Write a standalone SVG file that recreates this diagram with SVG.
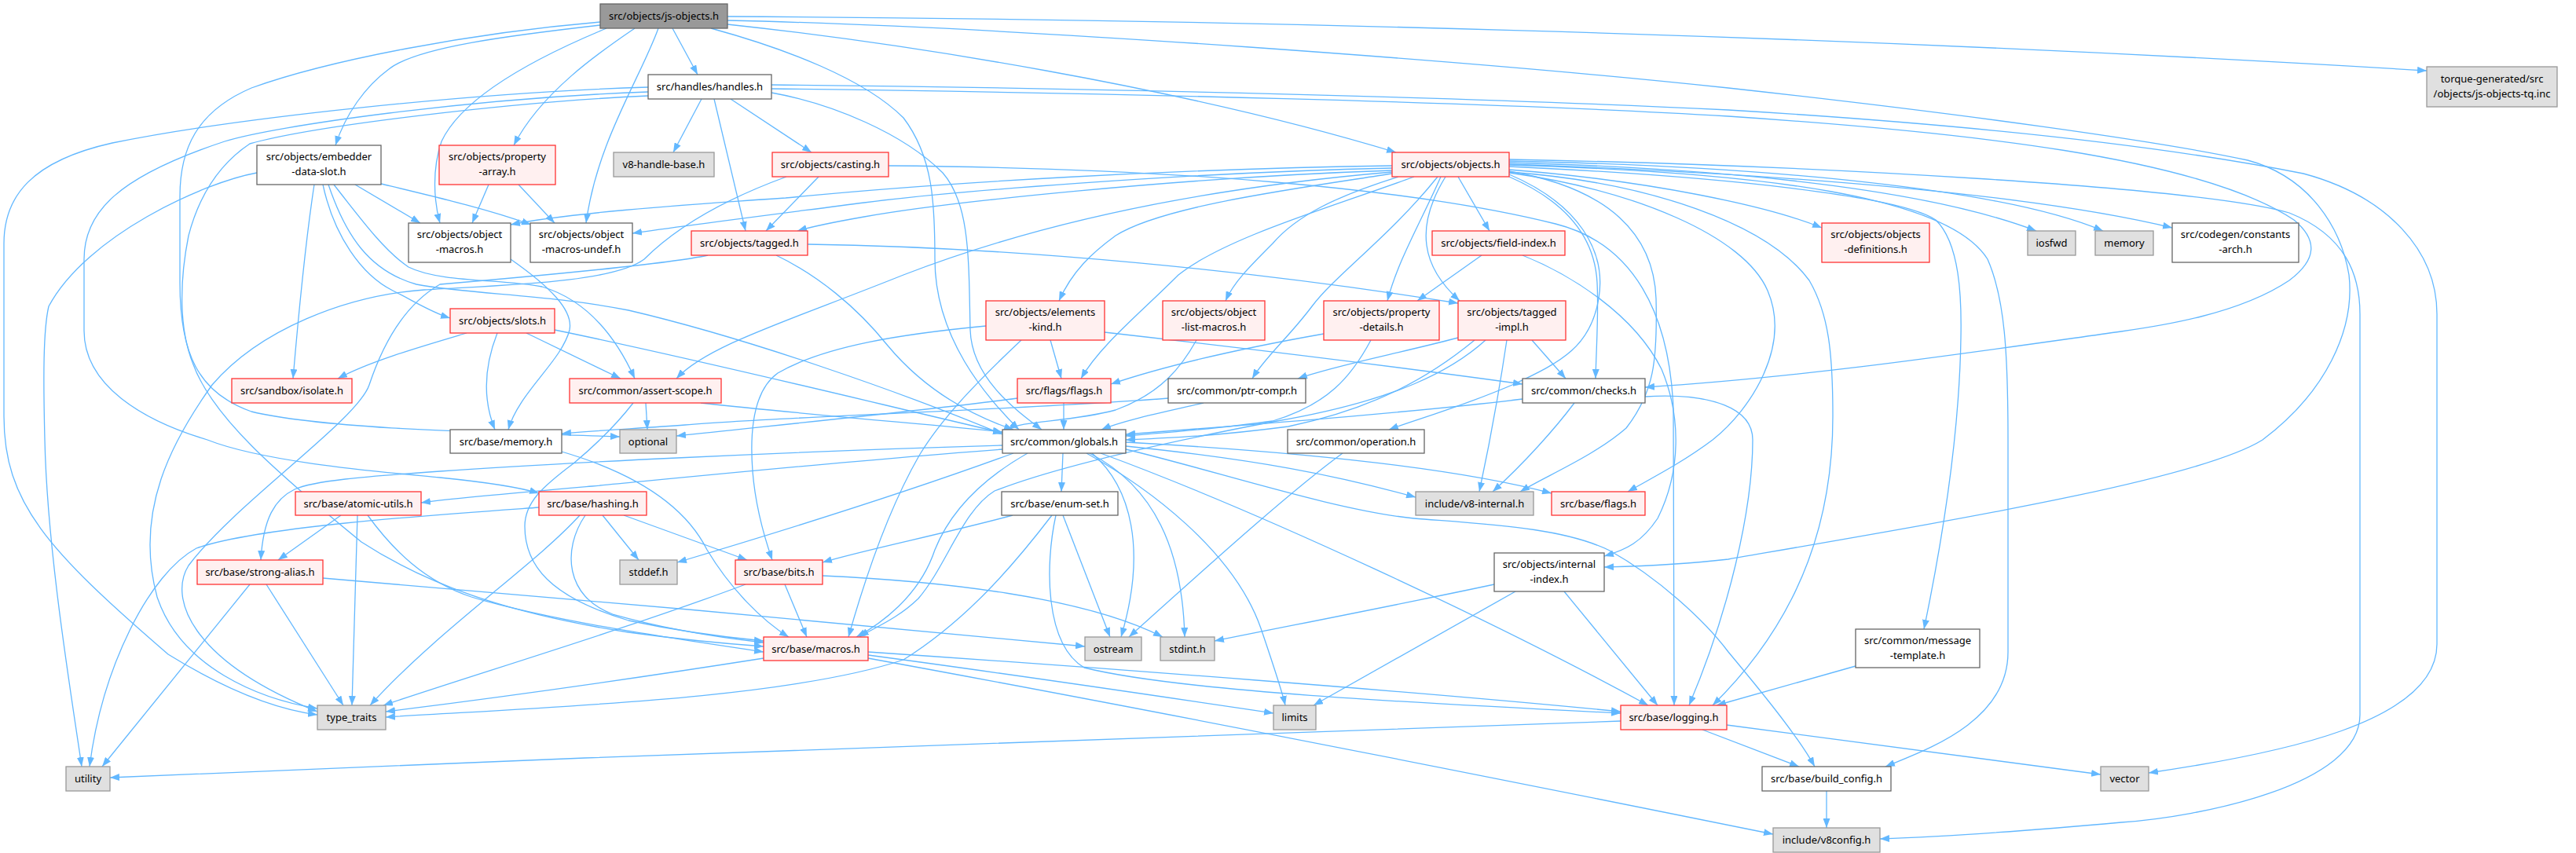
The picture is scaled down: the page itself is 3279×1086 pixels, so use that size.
<svg xmlns="http://www.w3.org/2000/svg" width="3279" height="1086" viewBox="0 0 3279 1086">
<defs>
<marker id="a" viewBox="0 0 12 9" refX="12" refY="4.5" markerWidth="12" markerHeight="9" markerUnits="userSpaceOnUse" orient="auto"><path d="M0,0L12,4.5L0,9z" fill="#63B8FF"/></marker>
<style>
.e path{fill:none;stroke:#63B8FF;stroke-width:1.3;marker-end:url(#a)}
rect{stroke-width:1.3}
.w rect{fill:#fff;stroke:#666}
.r rect{fill:#FFF0F0;stroke:#F33}
.g rect{fill:#E0E0E0;stroke:#999}
.d rect{fill:#999;stroke:#666}
text{font-family:"Noto Sans","DejaVu Sans",sans-serif;font-size:13px;fill:#000;text-anchor:middle}
</style>
</defs>
<rect width="3279" height="1086" fill="#fff"/>
<g id="edges" class="e">
<path d="M856,36 L888,95"/>
<path d="M926,21 C1500,24 2300,42 3089,90"/>
<path d="M764,32 C650,45 530,60 495,88 C465,110 440,145 427,185"/>
<path d="M772,36 C690,70 590,120 562,180 C550,215 552,255 560,284"/>
<path d="M808,36 C770,62 690,115 654,185"/>
<path d="M838,36 C815,100 760,180 746,284"/>
<path d="M926,31 C1150,55 1500,110 1777,194"/>
<path d="M905,36 C1000,62 1100,100 1150,150 C1188,200 1190,260 1190,330 C1190,430 1255,505 1297,547"/>
<path d="M764,28 C600,42 420,76 320,112 C250,142 229,190 229,250 L229,360 C229,450 252,500 320,524 C420,548 650,551 789,556"/>
<path d="M926,26 C1300,34 1900,80 2200,112 C2500,145 2750,180 2861,204 C2940,225 2980,290 2990,350 C2998,420 2960,500 2880,560 C2800,610 2500,660 2200,712 C2130,720 2080,721 2042,722"/>
<path d="M893,126 L857,194"/>
<path d="M930,126 L1033,194"/>
<path d="M909,126 L949,294"/>
<path d="M825,111 C600,118 300,150 143,182 C40,205 5,250 5,310 L5,530 C5,640 60,700 214,833 C290,880 350,903 404,910"/>
<path d="M825,117 C600,125 350,160 286,180 C150,225 107,270 107,330 L107,421 C107,490 180,535 264,560 C340,590 500,602 560,608 C620,614 660,620 686,628"/>
<path d="M825,122 C650,130 400,160 318,183 C270,215 250,262 240,300 C228,360 228,420 246,464 C270,530 350,600 460,690 C540,742 640,780 800,805 C880,816 930,820 972,823"/>
<path d="M982,118 C1060,132 1150,170 1200,220 C1235,260 1233,330 1235,420 C1237,480 1290,520 1326,547"/>
<path d="M982,113 C1400,118 1900,130 2200,148 C2500,168 2800,200 2920,280 C2950,305 2950,330 2914,357 C2850,400 2750,415 2700,422 C2500,450 2300,480 2094,493"/>
<path d="M982,108 C1400,112 1900,125 2200,140 C2500,158 2750,185 2932,221 C3040,250 3102,320 3102,400 L3102,820 C3102,920 2900,960 2735,984"/>
<path d="M452,235 L535,284"/>
<path d="M485,234 C560,252 620,266 676,286"/>
<path d="M411,235 C425,300 460,350 500,370 C530,385 550,398 573,405"/>
<path d="M400,235 C390,300 380,400 373,482"/>
<path d="M425,235 C460,280 490,320 520,340 C560,360 640,355 690,365 C740,380 780,420 808,482"/>
<path d="M418,235 C440,300 470,345 530,362 C600,375 700,375 800,395 C950,430 1150,500 1276,553"/>
<path d="M327,220 C260,232 110,300 62,390 C55,420 55,480 57,560 C60,700 90,880 104,976"/>
<path d="M622,235 L601,284"/>
<path d="M660,235 L706,284"/>
<path d="M1042,225 L975,294"/>
<path d="M1001,225 C900,262 850,300 820,330 C780,360 640,363 540,369 C440,376 330,420 270,490 C220,560 170,650 200,760 C230,850 330,890 404,902"/>
<path d="M1131,211 C1500,214 1800,240 1980,285 C2080,310 2125,400 2130,520 L2131,898"/>
<path d="M1028,311 C1300,315 1600,345 1856,386"/>
<path d="M988,325 C1040,350 1090,390 1130,440 C1180,500 1240,530 1290,547"/>
<path d="M901,325 C850,336 700,350 560,362 C520,385 490,430 470,490 C455,535 300,640 240,720 C215,760 240,840 404,906"/>
<path d="M594,424 C540,440 470,460 430,482"/>
<path d="M633,424 C615,470 615,510 630,547"/>
<path d="M670,424 L790,482"/>
<path d="M706,420 C900,460 1100,510 1276,551"/>
<path d="M650,330 C700,365 730,395 725,420 C715,460 660,500 647,547"/>
<path d="M1772,211 C1500,215 1200,232 1000,252 C850,262 720,272 650,286"/>
<path d="M1772,214 C1500,220 1200,245 1100,258 C1000,271 880,286 805,297"/>
<path d="M1772,217 C1500,226 1200,258 1100,276 C1060,283 1035,288 1015,294"/>
<path d="M1921,216 C2100,230 2250,262 2319,290"/>
<path d="M1921,207 C2200,215 2450,240 2592,294"/>
<path d="M1921,205 C2250,212 2550,240 2677,294"/>
<path d="M1921,209 C2300,222 2600,250 2765,290"/>
<path d="M1921,203 C2300,210 2800,238 2914,271 C2986,300 3004,350 3004,400 L3004,910 C3004,1000 2800,1040 2700,1047 C2600,1056 2480,1065 2393,1068"/>
<path d="M1856,225 L1896,294"/>
<path d="M1834,225 C1810,280 1780,330 1766,383"/>
<path d="M1840,225 C1800,290 1810,340 1858,383"/>
<path d="M1772,221 C1650,240 1480,262 1420,300 C1390,322 1365,345 1348,383"/>
<path d="M1780,225 C1700,250 1650,275 1620,310 C1590,340 1570,360 1560,383"/>
<path d="M1800,225 C1700,262 1560,302 1500,350 C1450,400 1400,440 1376,482"/>
<path d="M1830,225 C1770,300 1700,350 1670,390 C1640,430 1610,455 1594,482"/>
<path d="M1772,219 C1500,242 1300,292 1150,350 C1000,410 900,440 861,482"/>
<path d="M1921,225 C1990,255 2030,300 2033,360 C2035,400 2032,440 2031,482"/>
<path d="M1921,222 C2010,260 2045,320 2035,380 C2025,440 1990,460 1925,490 C1860,518 1800,535 1768,547"/>
<path d="M1921,218 C2050,240 2105,300 2108,380 C2110,460 2105,500 2070,545 C2030,580 1970,605 1935,626"/>
<path d="M1921,212 C2200,225 2420,250 2464,280 C2495,310 2497,380 2496,430 C2494,560 2470,700 2449,801"/>
<path d="M1921,219 C2100,232 2250,285 2303,357 C2328,400 2333,450 2333,530 C2333,650 2300,780 2180,898"/>
<path d="M1921,220 C2080,242 2220,300 2250,370 C2280,440 2230,520 2180,560 C2140,590 2100,610 2072,626"/>
<path d="M1921,210 C2250,220 2480,250 2530,330 C2552,380 2556,450 2556,560 L2556,830 C2556,920 2450,955 2400,976"/>
<path d="M1886,325 L1804,383"/>
<path d="M1938,325 C2000,350 2080,400 2115,470 C2140,530 2140,600 2110,660 C2090,690 2070,700 2042,708"/>
<path d="M1337,433 L1351,482"/>
<path d="M1406,423 C1600,445 1800,470 1938,489"/>
<path d="M1300,433 C1250,480 1200,530 1170,580 C1130,650 1100,740 1080,811"/>
<path d="M1255,415 C1150,425 1050,440 990,475 C955,500 955,560 958,600 C962,650 975,690 983,713"/>
<path d="M1523,433 C1505,465 1480,500 1420,522 C1360,538 1300,535 1283,547"/>
<path d="M1354,513 L1354,547"/>
<path d="M1295,507 C1200,520 1050,535 861,555"/>
<path d="M1532,513 C1480,525 1430,535 1402,547"/>
<path d="M1487,507 C1300,522 1000,530 872,541 C820,545 760,548 715,552"/>
<path d="M1938,508 C1800,525 1600,540 1433,553"/>
<path d="M2004,513 C1980,545 1940,590 1900,626"/>
<path d="M2094,505 C2180,500 2231,520 2231,560 C2231,650 2200,780 2150,898"/>
<path d="M1877,433 C1820,480 1750,520 1640,543 C1540,556 1480,558 1433,560"/>
<path d="M1918,433 C1908,500 1895,570 1883,626"/>
<path d="M1950,433 L1993,482"/>
<path d="M1856,430 C1780,450 1700,465 1652,482"/>
<path d="M1891,433 C1850,470 1780,510 1620,537 C1500,560 1350,592 1266,625 C1225,650 1205,720 1169,762 C1140,790 1110,800 1094,811"/>
<path d="M1685,425 C1600,440 1500,460 1414,489"/>
<path d="M1745,433 C1720,480 1690,515 1620,536 C1550,546 1490,550 1433,555"/>
<path d="M1353,577 L1351,626"/>
<path d="M1276,572 C1100,585 900,605 754,619 C650,628 580,634 536,640"/>
<path d="M1276,567 C1000,575 700,590 560,600 C460,607 400,612 375,623 C350,635 335,660 332,713"/>
<path d="M1308,577 C1250,610 1210,650 1190,700 C1170,760 1120,795 1090,811"/>
<path d="M1390,577 C1440,620 1460,700 1427,811"/>
<path d="M1387,577 C1470,620 1505,700 1508,811"/>
<path d="M1383,577 C1460,620 1570,700 1605,800 C1622,850 1632,880 1636,898"/>
<path d="M1433,568 C1600,585 1700,605 1802,633"/>
<path d="M1433,563 C1650,575 1850,595 1975,628"/>
<path d="M1401,577 C1600,650 1900,790 2098,898"/>
<path d="M1433,572 C1550,600 1700,650 1800,660 C1900,668 1990,672 2049,701 C2110,735 2170,790 2200,830 C2250,890 2290,940 2310,976"/>
<path d="M1290,577 C1200,610 1050,660 862,716"/>
<path d="M1289,656 C1200,680 1100,700 1047,716"/>
<path d="M1339,656 C1290,720 1230,790 1150,840 C1000,890 700,900 491,913"/>
<path d="M1353,656 L1413,811"/>
<path d="M1344,656 C1330,720 1330,820 1380,850 C1500,880 1800,895 2063,908"/>
<path d="M686,646 C560,655 330,670 250,698 C190,730 130,850 114,976"/>
<path d="M738,656 C680,720 560,800 471,898"/>
<path d="M745,656 C715,700 720,760 780,782 C850,802 920,812 972,818"/>
<path d="M767,656 L813,713"/>
<path d="M794,656 L951,713"/>
<path d="M434,656 L354,713"/>
<path d="M455,656 L448,898"/>
<path d="M468,656 C500,700 540,740 600,760 C700,790 850,812 972,830"/>
<path d="M318,744 L130,976"/>
<path d="M339,744 L437,898"/>
<path d="M411,736 C700,760 1100,795 1381,823"/>
<path d="M715,575 C800,600 870,640 900,700 C930,750 970,790 1004,811"/>
<path d="M999,744 L1027,811"/>
<path d="M949,744 C800,800 600,860 488,898"/>
<path d="M1047,733 C1200,740 1380,760 1480,811"/>
<path d="M972,838 C800,865 620,890 491,906"/>
<path d="M1105,834 C1300,860 1500,890 1621,908"/>
<path d="M1105,830 C1400,850 1800,880 2063,906"/>
<path d="M1105,838 C1500,910 2000,1010 2257,1062"/>
<path d="M2063,918 C1600,935 800,960 140,990"/>
<path d="M2167,929 L2290,976"/>
<path d="M2198,923 L2674,986"/>
<path d="M2325,1007 L2325,1054"/>
<path d="M2362,848 L2185,898"/>
<path d="M1929,753 L1672,898"/>
<path d="M1991,753 L2110,898"/>
<path d="M1902,744 C1780,770 1650,795 1546,816"/>
<path d="M822,513 L824,547"/>
<path d="M892,513 C1050,530 1180,540 1276,550"/>
<path d="M806,513 C785,540 760,565 730,590 C690,620 668,640 668,670 C668,720 700,760 800,790 C870,805 930,812 972,816"/>
<path d="M1709,577 C1650,620 1560,700 1437,811"/>
</g>
<g id="n-js-objects" class="d"><rect x="764" y="5" width="162" height="31"/><text x="845" y="25">src/objects/js-objects.h</text></g>
<g id="n-handles" class="w"><rect x="825" y="95" width="157" height="31"/><text x="903.5" y="115">src/handles/handles.h</text></g>
<g id="n-torque" class="g"><rect x="3089" y="85" width="166" height="51"/><text x="3172" y="105">torque-generated/src</text><text x="3172" y="124">/objects/js-objects-tq.inc</text></g>
<g id="n-embedder" class="w"><rect x="327" y="185" width="158" height="50"/><text x="406" y="204">src/objects/embedder</text><text x="406" y="223">-data-slot.h</text></g>
<g id="n-property-array" class="r"><rect x="559" y="185" width="148" height="50"/><text x="633" y="204">src/objects/property</text><text x="633" y="223">-array.h</text></g>
<g id="n-v8-handle-base" class="g"><rect x="781" y="194" width="128" height="31"/><text x="845" y="214">v8-handle-base.h</text></g>
<g id="n-casting" class="r"><rect x="983" y="194" width="148" height="31"/><text x="1057" y="214">src/objects/casting.h</text></g>
<g id="n-objects" class="r"><rect x="1772" y="194" width="149" height="31"/><text x="1846.5" y="214">src/objects/objects.h</text></g>
<g id="n-object-macros" class="w"><rect x="520" y="284" width="130" height="50"/><text x="585" y="303">src/objects/object</text><text x="585" y="322">-macros.h</text></g>
<g id="n-object-macros-undef" class="w"><rect x="675" y="284" width="130" height="50"/><text x="740" y="303">src/objects/object</text><text x="740" y="322">-macros-undef.h</text></g>
<g id="n-tagged" class="r"><rect x="880" y="294" width="148" height="31"/><text x="954" y="314">src/objects/tagged.h</text></g>
<g id="n-objects-definitions" class="r"><rect x="2319" y="284" width="137" height="50"/><text x="2387.5" y="303">src/objects/objects</text><text x="2387.5" y="322">-definitions.h</text></g>
<g id="n-iosfwd" class="g"><rect x="2581" y="294" width="61" height="31"/><text x="2611.5" y="314">iosfwd</text></g>
<g id="n-memory" class="g"><rect x="2667" y="294" width="74" height="31"/><text x="2704" y="314">memory</text></g>
<g id="n-constants-arch" class="w"><rect x="2765" y="284" width="161" height="50"/><text x="2845.5" y="303">src/codegen/constants</text><text x="2845.5" y="322">-arch.h</text></g>
<g id="n-field-index" class="r"><rect x="1823" y="294" width="169" height="31"/><text x="1907.5" y="314">src/objects/field-index.h</text></g>
<g id="n-slots" class="r"><rect x="573" y="393" width="133" height="31"/><text x="639.5" y="413">src/objects/slots.h</text></g>
<g id="n-elements-kind" class="r"><rect x="1255" y="383" width="151" height="50"/><text x="1330.5" y="402">src/objects/elements</text><text x="1330.5" y="421">-kind.h</text></g>
<g id="n-object-list-macros" class="r"><rect x="1480" y="383" width="130" height="50"/><text x="1545" y="402">src/objects/object</text><text x="1545" y="421">-list-macros.h</text></g>
<g id="n-property-details" class="r"><rect x="1685" y="383" width="147" height="50"/><text x="1758.5" y="402">src/objects/property</text><text x="1758.5" y="421">-details.h</text></g>
<g id="n-tagged-impl" class="r"><rect x="1856" y="383" width="137" height="50"/><text x="1924.5" y="402">src/objects/tagged</text><text x="1924.5" y="421">-impl.h</text></g>
<g id="n-isolate" class="r"><rect x="295" y="482" width="153" height="31"/><text x="371.5" y="502">src/sandbox/isolate.h</text></g>
<g id="n-assert-scope" class="r"><rect x="725" y="482" width="193" height="31"/><text x="821.5" y="502">src/common/assert-scope.h</text></g>
<g id="n-flags" class="r"><rect x="1295" y="482" width="119" height="31"/><text x="1354.5" y="502">src/flags/flags.h</text></g>
<g id="n-ptr-compr" class="w"><rect x="1487" y="482" width="175" height="31"/><text x="1574.5" y="502">src/common/ptr-compr.h</text></g>
<g id="n-checks" class="w"><rect x="1938" y="482" width="156" height="31"/><text x="2016" y="502">src/common/checks.h</text></g>
<g id="n-base-memory" class="w"><rect x="573" y="547" width="142" height="30"/><text x="644" y="566.5">src/base/memory.h</text></g>
<g id="n-optional" class="g"><rect x="789" y="547" width="72" height="30"/><text x="825" y="566.5">optional</text></g>
<g id="n-globals" class="w"><rect x="1276" y="547" width="157" height="30"/><text x="1354.5" y="566.5">src/common/globals.h</text></g>
<g id="n-operation" class="w"><rect x="1639" y="547" width="174" height="30"/><text x="1726" y="566.5">src/common/operation.h</text></g>
<g id="n-atomic-utils" class="r"><rect x="376" y="626" width="160" height="30"/><text x="456" y="645.5">src/base/atomic-utils.h</text></g>
<g id="n-hashing" class="r"><rect x="686" y="626" width="137" height="30"/><text x="754.5" y="645.5">src/base/hashing.h</text></g>
<g id="n-enum-set" class="w"><rect x="1275" y="626" width="148" height="30"/><text x="1349" y="645.5">src/base/enum-set.h</text></g>
<g id="n-v8-internal" class="g"><rect x="1802" y="626" width="150" height="30"/><text x="1877" y="645.5">include/v8-internal.h</text></g>
<g id="n-base-flags" class="r"><rect x="1975" y="626" width="119" height="30"/><text x="2034.5" y="645.5">src/base/flags.h</text></g>
<g id="n-strong-alias" class="r"><rect x="251" y="713" width="160" height="31"/><text x="331" y="733">src/base/strong-alias.h</text></g>
<g id="n-stddef" class="g"><rect x="789" y="713" width="73" height="31"/><text x="825.5" y="733">stddef.h</text></g>
<g id="n-bits" class="r"><rect x="936" y="713" width="111" height="31"/><text x="991.5" y="733">src/base/bits.h</text></g>
<g id="n-internal-index" class="w"><rect x="1902" y="704" width="140" height="49"/><text x="1972" y="723">src/objects/internal</text><text x="1972" y="742">-index.h</text></g>
<g id="n-macros" class="r"><rect x="972" y="811" width="133" height="30"/><text x="1038.5" y="830.5">src/base/macros.h</text></g>
<g id="n-ostream" class="g"><rect x="1381" y="811" width="72" height="30"/><text x="1417" y="830.5">ostream</text></g>
<g id="n-stdint" class="g"><rect x="1477" y="811" width="69" height="30"/><text x="1511.5" y="830.5">stdint.h</text></g>
<g id="n-message-template" class="w"><rect x="2362" y="801" width="158" height="49"/><text x="2441" y="820">src/common/message</text><text x="2441" y="839">-template.h</text></g>
<g id="n-type-traits" class="g"><rect x="404" y="898" width="87" height="31"/><text x="447.5" y="918">type_traits</text></g>
<g id="n-limits" class="g"><rect x="1621" y="898" width="54" height="31"/><text x="1648" y="918">limits</text></g>
<g id="n-logging" class="r"><rect x="2063" y="898" width="135" height="31"/><text x="2130.5" y="918">src/base/logging.h</text></g>
<g id="n-utility" class="g"><rect x="84" y="976" width="56" height="31"/><text x="112" y="996">utility</text></g>
<g id="n-build-config" class="w"><rect x="2243" y="976" width="164" height="31"/><text x="2325" y="996">src/base/build_config.h</text></g>
<g id="n-vector" class="g"><rect x="2674" y="976" width="61" height="31"/><text x="2704.5" y="996">vector</text></g>
<g id="n-v8config" class="g"><rect x="2257" y="1054" width="136" height="31"/><text x="2325" y="1074">include/v8config.h</text></g>
</svg>
